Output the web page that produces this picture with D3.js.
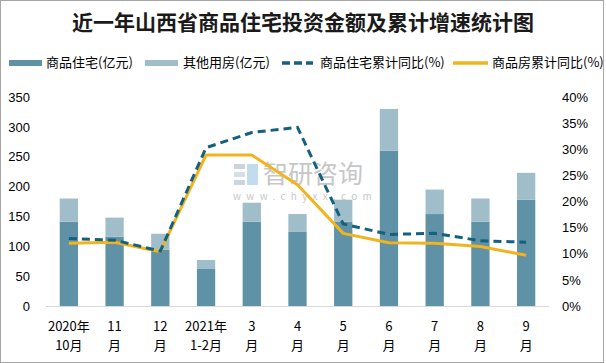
<!DOCTYPE html>
<html>
<head>
<meta charset="utf-8">
<script src="https://cdn.jsdelivr.net/npm/d3@7"></script>
<style>
  body { margin: 0; background: #fff; }
  text { font-family: "Noto Sans CJK SC", "Noto Sans", sans-serif; }
</style>
</head>
<body>
<div id="chart"></div>
<script>
// data
const months = [
  ["2020年", "10月"], ["11", "月"], ["12", "月"], ["2021年", "1-2月"],
  ["3", "月"], ["4", "月"], ["5", "月"], ["6", "月"], ["7", "月"], ["8", "月"], ["9", "月"]
];
const housing = [141, 116, 94, 62, 141, 124, 141, 260, 154, 141, 178]; // 商品住宅(亿元)
const others = [39, 32, 27, 15, 32, 30, 37, 70, 41, 39, 45]; // 其他用房(亿元)
const housingYoY = [12.9, 12.6, 10.5, 30.3, 33.2, 34.2, 15.7, 13.7, 13.9, 12.5, 12.2]; // %
const totalYoY = [12.0, 12.2, 10.4, 28.9, 28.9, 23.2, 13.9, 12.1, 12.0, 11.4, 9.7]; // %
const leftTicks = [0, 50, 100, 150, 200, 250, 300, 350];
const rightTicks = [0, 5, 10, 15, 20, 25, 30, 35, 40];

Chart();

function Chart() {
  const W = 606, H = 363;
  const plot = { left: 46, right: 549, top: 97, bottom: 306 };

  const colDark = "#5f91a7";
  const colLight = "#a0bdca";
  const colDash = "#14607f";
  const colYellow = "#f2b31d";

  const svg = d3.select("#chart")
    .append("svg")
    .attr("width", W)
    .attr("height", H);

  // outer border
  svg.append("rect")
    .attr("x", 0.5).attr("y", 0.5)
    .attr("width", W - 3).attr("height", H - 1)
    .attr("fill", "#fff")
    .attr("stroke", "#a6a6a6");

  const idx = months.map((d, i) => i);
  const x = d3.scaleBand().domain(idx).range([plot.left, plot.right]).paddingInner(0.6).paddingOuter(0.3);
  const yL = d3.scaleLinear().domain([0, 350]).range([plot.bottom, plot.top]);
  const yR = d3.scaleLinear().domain([0, 40]).range([plot.bottom, plot.top]);

  // title
  svg.append("text")
    .attr("x", 303).attr("y", 30)
    .attr("text-anchor", "middle")
    .style("font-size", "21px")
    .style("font-weight", "bold")
    .attr("fill", "#1a1a1a")
    .text("近一年山西省商品住宅投资金额及累计增速统计图");

  // legend
  const lg = svg.append("g").style("font-size", "13px");
  lg.append("rect").attr("x", 9).attr("y", 60).attr("width", 33).attr("height", 6).attr("fill", colDark);
  lg.append("text").attr("x", 46).attr("y", 67).text("商品住宅(亿元)");
  lg.append("rect").attr("x", 145).attr("y", 60).attr("width", 33).attr("height", 6).attr("fill", colLight);
  lg.append("text").attr("x", 183).attr("y", 67).text("其他用房(亿元)");
  lg.append("line").attr("x1", 282).attr("x2", 313).attr("y1", 63).attr("y2", 63)
    .attr("stroke", colDash).attr("stroke-width", 3.5).attr("stroke-dasharray", "8,4");
  lg.append("text").attr("x", 320).attr("y", 67).text("商品住宅累计同比(%)");
  lg.append("line").attr("x1", 453).attr("x2", 488).attr("y1", 63).attr("y2", 63)
    .attr("stroke", colYellow).attr("stroke-width", 3.5);
  lg.append("text").attr("x", 492).attr("y", 67).text("商品房累计同比(%)");

  // watermark
  const wm = svg.append("g").attr("opacity", 0.55);
  wm.append("rect").attr("x", 234).attr("y", 164).attr("width", 11).attr("height", 5).attr("fill", "#9fb3c8");
  wm.append("rect").attr("x", 234).attr("y", 172).attr("width", 11).attr("height", 5).attr("fill", "#b7c5d3");
  wm.append("rect").attr("x", 234).attr("y", 180).attr("width", 11).attr("height", 5).attr("fill", "#9fb3c8");
  wm.append("rect").attr("x", 247).attr("y", 164).attr("width", 11).attr("height", 21).attr("fill", "#8fc0e0");
  wm.append("text").attr("x", 263).attr("y", 183).style("font-size", "25px").attr("fill", "#999").text("智研咨询");
  wm.append("text").attr("x", 233).attr("y", 200).style("font-size", "10px").style("letter-spacing", "5.3px")
    .attr("fill", "#999").text("www.chyxx.com");

  // stacked bars
  svg.append("g").selectAll("rect").data(idx).join("rect")
    .attr("x", i => x(i)).attr("width", x.bandwidth())
    .attr("y", i => yL(housing[i]))
    .attr("height", i => yL(0) - yL(housing[i]))
    .attr("fill", colDark);
  svg.append("g").selectAll("rect").data(idx).join("rect")
    .attr("x", i => x(i)).attr("width", x.bandwidth())
    .attr("y", i => yL(housing[i] + others[i]))
    .attr("height", i => yL(housing[i]) - yL(housing[i] + others[i]))
    .attr("fill", colLight);

  // baseline
  svg.append("line")
    .attr("x1", plot.left).attr("x2", plot.right)
    .attr("y1", plot.bottom + 0.5).attr("y2", plot.bottom + 0.5)
    .attr("stroke", "#d9d9d9");

  // lines (nearly straight segments, like the reference)
  const cx = i => x(i) + x.bandwidth() / 2;
  const line = vals => d3.line().curve(d3.curveLinear).x(i => cx(i)).y(i => yR(vals[i]))(idx);

  svg.append("path").attr("d", line(totalYoY))
    .attr("fill", "none").attr("stroke", colYellow).attr("stroke-width", 3)
    .attr("stroke-linejoin", "round");
  svg.append("path").attr("d", line(housingYoY))
    .attr("fill", "none").attr("stroke", colDash).attr("stroke-width", 3)
    .attr("stroke-dasharray", "8,5");

  // left axis
  const left = svg.append("g")
    .attr("transform", "translate(" + 30 + ",0)")
    .call(d3.axisLeft(yL).tickValues(leftTicks).tickSize(0).tickPadding(0));
  left.select(".domain").remove();
  left.selectAll("text").style("font-size", "13px").attr("fill", "#000")
    .style("font-family", "'Liberation Sans', sans-serif");

  // right axis
  const right = svg.append("g")
    .attr("transform", "translate(" + 562 + ",0)")
    .call(d3.axisRight(yR).tickValues(rightTicks).tickSize(0).tickPadding(0).tickFormat(d => d + "%"));
  right.select(".domain").remove();
  right.selectAll("text").style("font-size", "13px").attr("fill", "#000")
    .style("font-family", "'Liberation Sans', sans-serif");

  // category labels, two lines each
  const xl = svg.append("g").selectAll("text").data(idx).join("text")
    .attr("text-anchor", "middle")
    .style("font-size", "13px")
    .attr("fill", "#000");
  xl.append("tspan").attr("x", cx).attr("y", 331).text(i => months[i][0]);
  xl.append("tspan").attr("x", cx).attr("y", 350).text(i => months[i][1]);
}
</script>
</body>
</html>
